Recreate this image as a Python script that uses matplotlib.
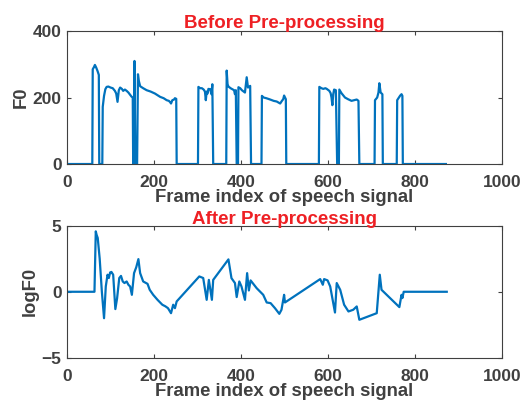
import matplotlib
matplotlib.use("Agg")
import matplotlib.pyplot as plt

plt.rcParams['font.family'] = ['Liberation Sans', 'DejaVu Sans']
plt.rcParams['font.weight'] = 'bold'

# F0 contour before pre-processing (frame index, F0)
f0_frames = [0, 58, 59, 62, 64, 67, 70, 73, 74, 81, 82, 85, 88, 91, 95, 100, 105,
             110, 113, 116, 119, 122, 126, 129, 133, 137, 141, 145, 148, 151, 152,
             154, 155, 157, 161, 163, 165, 168, 175, 183, 192, 202, 214, 222, 229,
             234, 237, 239, 242, 246, 248, 251, 252,
             301, 302, 306, 310, 314, 317, 319, 321, 323, 325, 329, 332, 334, 336,
             366, 367, 369, 371, 376, 380, 384, 386, 388, 390, 393, 394, 398, 402,
             406, 409, 413, 416, 421, 423,
             447, 448, 452, 458, 467, 475, 482, 490, 494, 497, 499, 503, 504,
             579, 580, 585, 589, 594, 597, 603, 606, 608, 610, 612, 614, 618, 621,
             625, 626, 631, 639, 646, 654, 660, 666, 670, 672,
             707, 708, 713, 716, 718, 721, 725, 726,
             758, 759, 763, 766, 769, 771, 772, 871]
f0_vals = [0, 0, 285, 292, 298, 290, 280, 268, 0, 0, 172, 205, 225, 232, 233, 230, 228,
           220, 212, 187, 222, 230, 226, 220, 224, 220, 215, 208, 203, 200, 0,
           0, 310, 0, 0, 270, 250, 234, 228, 222, 218, 212, 202, 198, 192,
           190, 186, 182, 192, 194, 198, 196, 0,
           0, 232, 228, 228, 224, 218, 192, 218, 212, 226, 225, 210, 240, 0,
           0, 281, 240, 233, 228, 225, 222, 210, 222, 0, 0, 231, 228, 222,
           218, 215, 261, 230, 235, 0,
           0, 205, 200, 198, 194, 190, 188, 182, 190, 195, 206, 195, 0,
           0, 232, 228, 226, 228, 226, 220, 213, 200, 177, 210, 224, 222, 0,
           0, 224, 213, 200, 195, 190, 192, 194, 190, 0,
           0, 192, 200, 215, 243, 215, 210, 0,
           0, 192, 200, 206, 210, 205, 0, 0]

# log F0 after pre-processing (frame index, logF0)
lf0_frames = [0, 63, 66, 68, 70.5, 75, 80, 85, 89, 93, 96, 99, 102, 106, 111, 115,
              120, 124, 128, 132, 137, 141, 145, 149, 154, 159, 164, 168, 175, 185,
              190, 198, 208, 219, 226, 232, 239, 244, 248, 252,
              304, 313, 321, 326, 333, 336, 371, 378, 386, 390, 396, 401, 409,
              414, 418, 422, 436, 451, 459, 468, 478, 488, 493, 499, 501,
              582, 588, 591, 599, 605, 616, 620, 628, 637, 647, 658, 666, 672,
              712, 719, 723, 764, 769, 771, 774, 873]
lf0_vals = [0, 0, 4.57, 4.3, 4.07, 2.5, 0.0, -2.0, 0.4, 1.29, 1.04, 1.46, 1.5, 1.29,
            -1.31, -0.5, 1.04, 1.2, 0.78, 0.66, 0.78, 0.53, 0.40, -0.23, 1.41, 1.85,
            2.47, 1.41, 0.78, 0.6, 0.15, -0.23, -0.61, -0.98, -1.1, -1.24, -1.62,
            -0.98, -1.24, -0.73,
            1.16, 1.04, -0.61, 0.9, -0.61, 0.9, 2.45, 1.03, 0.66, -0.40, 0.78, 0.40,
            -0.61, 1.41, 0.1, 0.86, 0.27, -0.23, -0.81, -0.86, -1.24, -1.67, -1.36,
            -0.23, -0.81,
            0.96, 0.53, 0.96, 0.86, 0.40, -1.57, 0.66, 0.15, -0.98, -1.49, -1.36,
            -1.11, -2.12, -1.62, 1.29, 0.15, -1.16, -0.23, -0.48, 0, 0]

line_col = '#0072BD'
txt_col = '#404040'

fig = plt.figure(figsize=(5.24, 4.03), dpi=100)
ax1 = fig.add_axes([0.128, 0.593, 0.830, 0.330])
ax2 = fig.add_axes([0.128, 0.112, 0.830, 0.328])

def style(ax):
    ax.set_xlim(0, 1000)
    ax.set_xticks(range(0, 1001, 200))
    for s in ax.spines.values():
        s.set_color(txt_col)
        s.set_linewidth(0.8)
    ax.tick_params(direction='in', top=True, right=True, length=3,
                   colors=txt_col, labelsize=12.5, pad=4)
    ax.tick_params(axis='x', pad=8)
    for lb in ax.get_xticklabels() + ax.get_yticklabels():
        lb.set_fontweight('bold')

ax1.plot(f0_frames, f0_vals, color=line_col, lw=1.6)
ax1.set_ylim(0, 400)
ax1.set_yticks([0, 200, 400])
style(ax1)
ax1.set_title('Before Pre-processing', color='#EE2024', fontsize=13.5,
              fontweight='bold', pad=2)
ax1.set_xlabel('Frame index of speech signal', fontsize=13.3, color=txt_col,
               fontweight='bold', labelpad=-1)
ax1.set_ylabel('F0', fontsize=13.3, color=txt_col, fontweight='bold', labelpad=2)

ax2.plot(lf0_frames, lf0_vals, color=line_col, lw=1.6)
ax2.set_ylim(-5, 5)
ax2.set_yticks([-5, 0, 5])
style(ax2)
ax2.set_title('After Pre-processing', color='#EE2024', fontsize=13.5,
              fontweight='bold', pad=1)
ax2.set_xlabel('Frame index of speech signal', fontsize=13.3, color=txt_col,
               fontweight='bold', labelpad=-1)
ax2.set_ylabel('logF0', fontsize=13.3, color=txt_col, fontweight='bold', labelpad=2)

fig.savefig('out.png', dpi=100)
